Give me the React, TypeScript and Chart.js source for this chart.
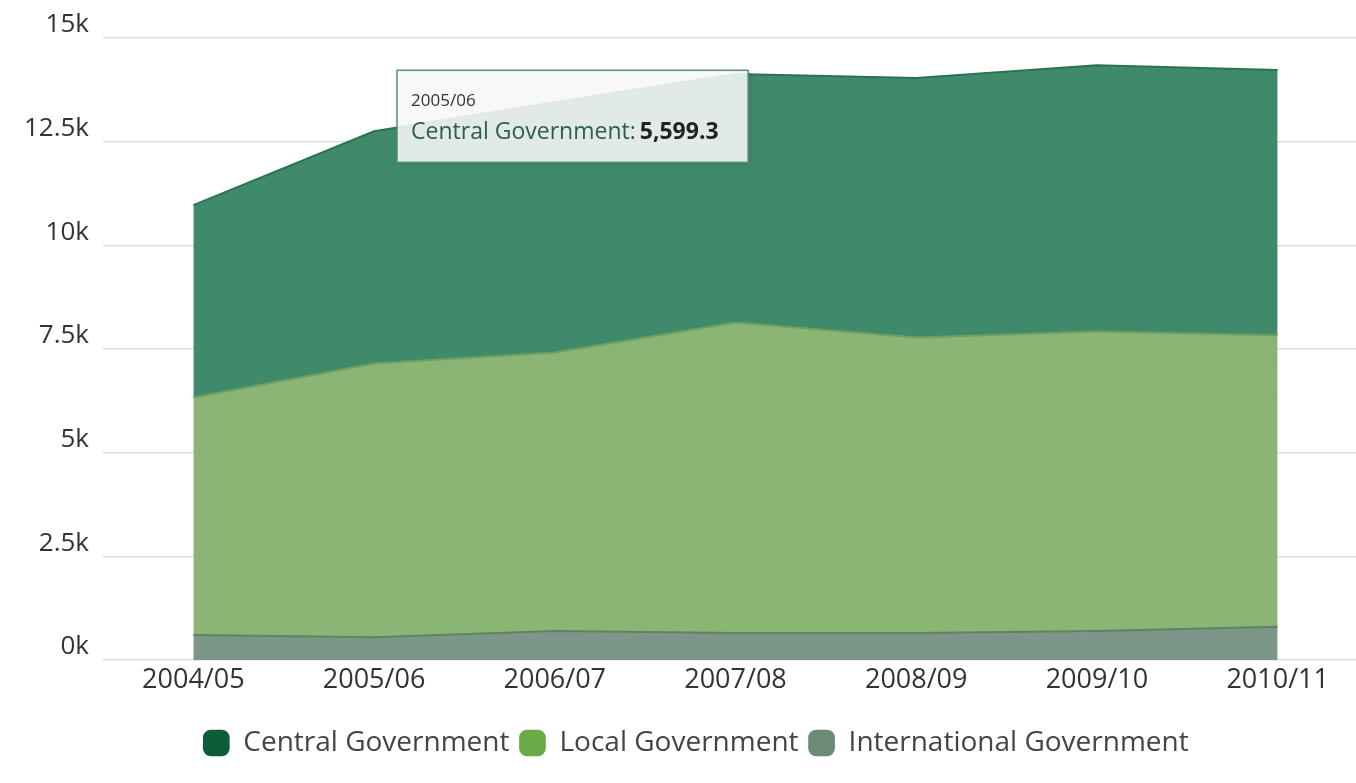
import React, { useEffect, useRef } from "react";
import { Chart, registerables } from "chart.js";

Chart.register(...registerables);

const categories = ["2004/05", "2005/06", "2006/07", "2007/08", "2008/09", "2009/10", "2010/11"];
const centralGov = [4640, 5599.3, 6035, 5990, 6256, 6425, 6400];
const localGov = [5730, 6600, 6715, 7490, 7130, 7220, 7030];
const internationalGov = [600, 550, 700, 650, 650, 700, 800];
const yTicks = [0, 2500, 5000, 7500, 10000, 12500, 15000];
const tooltipIndex = 1;

const FONT = "'Open Sans', sans-serif";

const tooltipPlugin = {
  id: "fixedTooltip",
  afterDraw(chart: any) {
    const ctx = chart.ctx;
    const xs = chart.scales.x;
    const ys = chart.scales.y;
    const i = tooltipIndex;
    const total = internationalGov[i] + localGov[i] + centralGov[i];
    const px = xs.getPixelForValue(i);
    const py = ys.getPixelForValue(total);
    const left = px + 23;
    const top = py - 61;
    const w = 351;
    const h = 92;
    ctx.save();
    ctx.shadowColor = "rgba(0,0,0,0.25)";
    ctx.shadowBlur = 4;
    ctx.shadowOffsetX = 1;
    ctx.shadowOffsetY = 1;
    ctx.fillStyle = "rgba(255,255,255,0.86)";
    ctx.fillRect(left, top, w, h);
    ctx.shadowColor = "transparent";
    ctx.strokeStyle = "#5f8f78";
    ctx.lineWidth = 1.5;
    ctx.strokeRect(left, top, w, h);
    ctx.textBaseline = "middle";
    ctx.textAlign = "left";
    ctx.fillStyle = "#333333";
    ctx.font = `17px ${FONT}`;
    ctx.fillText(categories[i], left + 14, top + 31);
    const label = "Central Government: ";
    ctx.font = `23px ${FONT}`;
    ctx.fillStyle = "#2f5e4e";
    ctx.fillText(label, left + 14, top + 62);
    const lw = ctx.measureText(label).width;
    ctx.font = `bold 23px ${FONT}`;
    ctx.fillStyle = "#222222";
    const val = centralGov[i].toLocaleString("en-US", { minimumFractionDigits: 1, maximumFractionDigits: 1 });
    ctx.fillText(val, left + 14 + lw - 2, top + 62);
    ctx.restore();
  },
};

export default function App() {
  const ref = useRef<HTMLCanvasElement | null>(null);
  useEffect(() => {
    if (!ref.current) return;
    const legendColors = ["#0d5c3a", "#6aaa47", "#6b8a78"];
    const chart = new Chart(ref.current, {
      type: "line",
      data: {
        labels: categories,
        datasets: [
          {
            label: "International Government",
            data: internationalGov,
            backgroundColor: "#7d968a",
            borderColor: "#5e8461",
            borderWidth: 2,
            fill: "origin",
            pointRadius: 0,
            tension: 0,
          },
          {
            label: "Local Government",
            data: localGov,
            backgroundColor: "#8ab574",
            borderColor: "#6f9f62",
            borderWidth: 2,
            fill: "-1",
            pointRadius: 0,
            tension: 0,
          },
          {
            label: "Central Government",
            data: centralGov,
            backgroundColor: "#3f8a6a",
            borderColor: "#2a7352",
            borderWidth: 2,
            fill: "-1",
            pointRadius: 0,
            tension: 0,
          },
        ],
      },
      options: {
        animation: false,
        responsive: true,
        maintainAspectRatio: false,
        layout: { padding: { top: 38, right: 4, left: 24, bottom: 16 } },
        interaction: { mode: "index", intersect: false },
        scales: {
          x: {
            offset: true,
            grid: { display: false },
            border: { display: false },
            ticks: { color: "#333", font: { family: FONT, size: 27 }, padding: -4, maxRotation: 0 },
            afterFit(scale: any) {
              scale.height = 59;
            },
          },
          y: {
            stacked: true,
            min: 0,
            max: 15000,
            afterBuildTicks(scale: any) {
              scale.ticks = yTicks.map((v) => ({ value: v }));
            },
            afterFit(scale: any) {
              scale.width = 79;
            },
            grid: { color: "#dddddd", lineWidth: 1.5, drawTicks: false },
            border: { display: false },
            ticks: {
              color: "#333",
              font: { family: FONT, size: 26 },
              padding: 14,
              labelOffset: -13,
              callback: (v: any) => `${Number(v) / 1000}k`,
            },
          },
        },
        plugins: {
          tooltip: { enabled: false },
          legend: {
            position: "bottom",
            reverse: true,
            labels: {
              color: "#444",
              font: { family: FONT, size: 28 },
              usePointStyle: true,
              pointStyle: "rectRounded",
              boxWidth: 26,
              boxHeight: 22,
              padding: 10,
              generateLabels(c: any) {
                const items = Chart.defaults.plugins.legend.labels.generateLabels(c);
                return items.map((it: any) => ({
                  ...it,
                  fillStyle: legendColors[2 - it.datasetIndex],
                  strokeStyle: legendColors[2 - it.datasetIndex],
                  lineWidth: 0,
                }));
              },
            },
          },
        },
      },
      plugins: [tooltipPlugin],
    } as any);
    return () => chart.destroy();
  }, []);
  return (
    <div style={{ position: "fixed", left: 0, top: 0, width: 1372, height: 783, background: "#fff" }}>
      <canvas ref={ref} />
    </div>
  );
}
